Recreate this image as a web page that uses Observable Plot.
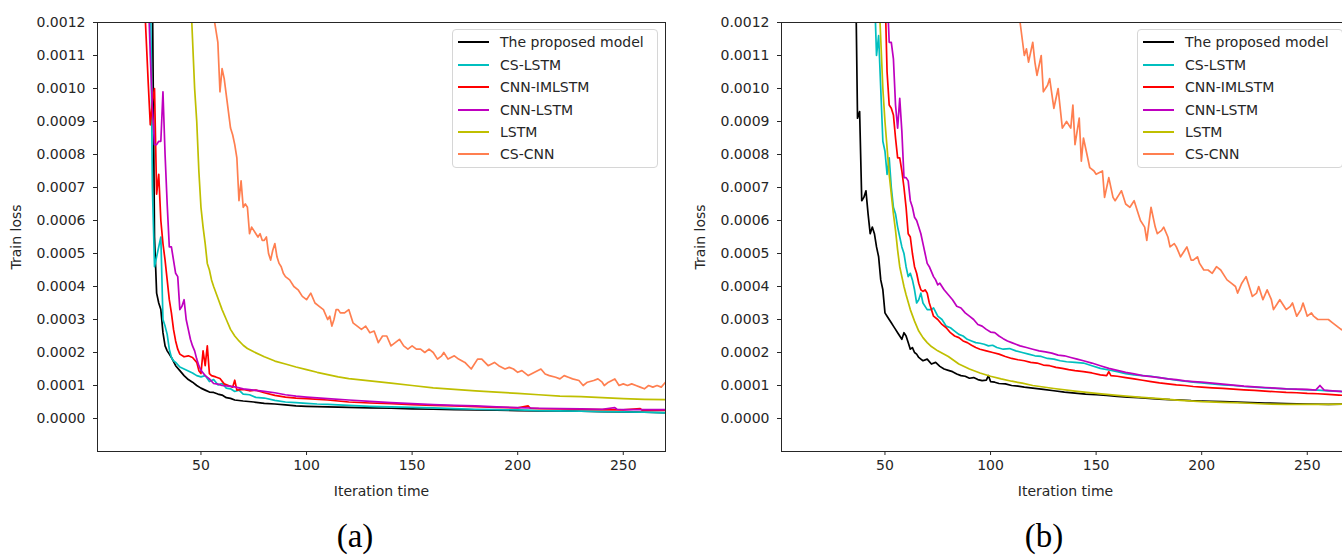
<!DOCTYPE html>
<html>
<head>
<meta charset="utf-8">
<script src="https://cdn.jsdelivr.net/npm/d3@7"></script>
<script src="https://cdn.jsdelivr.net/npm/@observablehq/plot@0.6"></script>
<style>
  html, body { margin: 0; padding: 0; background: #fff; width: 1342px; height: 558px; overflow: hidden; }
  #root { position: relative; width: 1342px; height: 558px; overflow: hidden; }
  .panel { position: absolute; top: 0; }
  .legend { position: absolute; box-sizing: border-box; border: 1px solid #d6d6d6; border-radius: 4px;
            background: rgba(255,255,255,0.85); font-family: "DejaVu Sans", sans-serif; font-size: 14px; color: #262626; }
  .legend .sw { position: absolute; height: 2px; }
  .legend .tx { position: absolute; white-space: nowrap; line-height: 20px; }
  .sub { position: absolute; width: 100px; text-align: center; font-family: "Liberation Serif", "Times New Roman", serif;
         font-size: 33px; line-height: 33px; color: #000; }
</style>
</head>
<body>
<div id="root"></div>
<script>
// ---------- data (loss values in units of 1e-4) ----------
const UNIT = 1e-4;
const seriesNames = ["The proposed model", "CS-LSTM", "CNN-IMLSTM", "CNN-LSTM", "LSTM", "CS-CNN"];
const seriesColors = ["#000000", "#00bfbf", "#ff0000", "#bf00bf", "#bfbf00", "#ff7f50"];
const xTicks = [50, 100, 150, 200, 250];
const yTicks = [0, 0.0001, 0.0002, 0.0003, 0.0004, 0.0005, 0.0006, 0.0007, 0.0008, 0.0009, 0.0010, 0.0011, 0.0012];
const panelLabels = ["(a)", "(b)"];

// Panel (a)
const a_proposed = [[27,13],[28,5.5],[29,3.8],[30,3.5],[31,3.3],[32,2.6],[33,2.2],[34,2.05],[35,1.95],[36,1.85],[38,1.6],[40,1.45],[42,1.3],[44,1.18],[46,1.1],[48,1.0],[50,0.92],[52,0.86],[54,0.8],[56,0.79],[58,0.74],[60,0.71],[62,0.63],[64,0.61],[66,0.56],[70,0.53],[75,0.5],[80,0.46],[85,0.44],[90,0.41],[95,0.38],[100,0.37],[110,0.35],[120,0.34],[130,0.32],[140,0.31],[150,0.29],[160,0.28],[170,0.27],[180,0.26],[190,0.25],[200,0.24],[210,0.23],[220,0.23],[230,0.22],[240,0.21],[250,0.2],[260,0.19],[270,0.18]];
const a_cslstm = [[26,14],[27,7.0],[28,4.6],[29,4.9],[30,5.2],[31,5.5],[32,3.0],[33,2.8],[34,2.55],[35,2.1],[36,1.85],[37,1.75],[38,1.7],[40,1.56],[42,1.5],[44,1.44],[46,1.38],[48,1.3],[50,1.26],[52,1.3],[54,1.12],[56,1.18],[58,1.02],[60,1.06],[62,0.92],[64,0.9],[66,0.82],[68,0.86],[70,0.74],[73,0.72],[76,0.64],[80,0.62],[85,0.55],[90,0.5],[95,0.48],[100,0.46],[105,0.44],[110,0.43],[120,0.4],[130,0.37],[140,0.35],[150,0.34],[160,0.32],[170,0.3],[180,0.28],[190,0.27],[200,0.26],[210,0.24],[220,0.23],[230,0.22],[240,0.21],[250,0.2],[260,0.19],[270,0.17]];
const a_cnnimlstm = [[23,13],[24,11.6],[25,10.2],[26,8.9],[27,9.6],[28,10.0],[29,6.8],[30,7.4],[31,6.0],[32,5.3],[33,4.8],[34,4.2],[35,3.6],[36,3.2],[37,2.7],[38,2.35],[39,2.1],[40,1.95],[42,1.87],[44,1.9],[46,1.85],[48,1.7],[49,1.45],[50,1.36],[51,2.05],[52,1.6],[53,2.2],[54,1.36],[55,1.3],[57,1.26],[59,1.21],[61,1.05],[63,1.0],[65,0.95],[66,1.16],[67,0.86],[70,0.88],[73,0.84],[76,0.86],[80,0.78],[85,0.7],[90,0.65],[95,0.62],[100,0.6],[110,0.56],[120,0.5],[130,0.47],[140,0.45],[150,0.42],[160,0.4],[170,0.38],[180,0.36],[190,0.34],[200,0.32],[205,0.38],[206,0.31],[210,0.3],[220,0.29],[230,0.28],[240,0.27],[250,0.26],[258,0.3],[259,0.25],[270,0.25]];
const a_cnnlstm = [[25,13],[26,11],[27,9.4],[28,8.3],[29,8.3],[30,8.4],[31,8.4],[32,9.9],[33,8.0],[34,6.5],[35,5.2],[36,5.2],[37,4.8],[38,4.4],[39,4.3],[40,3.3],[41,3.4],[42,3.6],[43,3.0],[44,2.7],[45,2.4],[46,2.2],[47,2.05],[48,1.8],[49,1.6],[50,1.46],[52,1.3],[54,1.2],[56,1.06],[58,1.04],[60,1.0],[63,0.98],[66,0.96],[70,0.9],[75,0.86],[80,0.82],[85,0.78],[90,0.72],[95,0.68],[100,0.65],[110,0.6],[120,0.56],[130,0.52],[140,0.48],[150,0.45],[160,0.42],[170,0.4],[180,0.38],[190,0.35],[200,0.33],[210,0.31],[220,0.3],[230,0.29],[240,0.28],[246,0.33],[247,0.28],[250,0.27],[260,0.27],[270,0.27]];
const a_lstm = [[45,13],[46,11.5],[47,10],[48,9.0],[49,7.5],[50,6.4],[51,5.8],[52,5.3],[53,4.7],[54,4.5],[55,4.2],[56,4.0],[58,3.65],[60,3.3],[62,3.0],[64,2.7],[66,2.5],[68,2.35],[70,2.22],[72,2.12],[75,2.02],[80,1.87],[85,1.74],[90,1.65],[95,1.56],[100,1.48],[105,1.4],[110,1.33],[115,1.26],[120,1.21],[130,1.14],[140,1.07],[150,1.0],[160,0.93],[170,0.88],[180,0.84],[190,0.8],[200,0.76],[210,0.72],[220,0.68],[230,0.66],[240,0.63],[250,0.6],[260,0.58],[270,0.57]];
const a_cscnn = [[55,13.5],[56,12.2],[57,11.8],[58,11.4],[59,9.9],[60,10.6],[61,10.3],[62,9.8],[63,9.3],[64,8.8],[65,8.6],[66,8.3],[67,7.9],[68,6.6],[69,7.2],[70,6.4],[71,6.5],[72,6.4],[73,5.6],[74,5.8],[75,5.7],[76,5.6],[77,5.5],[78,5.6],[79,5.4],[80,5.4],[81,5.5],[82,5.0],[83,4.8],[84,5.1],[85,5.3],[86,4.9],[87,4.7],[88,4.6],[89,4.4],[90,4.3],[92,4.2],[94,4.0],[96,3.9],[98,3.7],[100,3.6],[102,3.8],[104,3.5],[106,3.4],[108,3.3],[110,3.0],[111,3.1],[112,2.8],[113,3.0],[114,3.3],[115,3.3],[116,3.2],[118,3.2],[120,3.3],[122,2.9],[124,2.8],[126,2.7],[128,2.8],[130,2.6],[132,2.65],[134,2.3],[136,2.5],[138,2.5],[140,2.2],[142,2.3],[144,2.4],[146,2.2],[148,2.1],[150,2.2],[152,2.1],[154,2.1],[156,2.0],[158,2.1],[160,2.0],[162,1.8],[164,1.9],[165,2.0],[167,1.8],[170,1.9],[172,1.8],[175,1.7],[178,1.5],[181,1.8],[183,1.8],[186,1.6],[189,1.7],[191,1.6],[194,1.5],[196,1.55],[198,1.5],[200,1.4],[202,1.45],[205,1.3],[208,1.4],[211,1.5],[213,1.35],[215,1.3],[218,1.25],[220,1.2],[222,1.3],[224,1.25],[226,1.2],[229,1.15],[231,1.0],[233,1.1],[236,1.15],[238,1.2],[240,1.1],[241,1.0],[243,1.1],[246,1.2],[248,1.0],[250,1.05],[252,1.0],[254,1.05],[256,1.0],[258,0.95],[260,0.9],[262,1.0],[264,0.95],[266,1.0],[268,0.95],[270,1.1]];

// Panel (b)
const b_proposed = [[36,14],[37,9.1],[38,9.3],[39,6.6],[40,6.7],[41,6.9],[42,6.2],[43,5.6],[44,5.8],[45,5.6],[46,5.2],[47,4.9],[48,4.2],[49,3.9],[50,3.2],[51,3.1],[52,3.0],[53,2.9],[54,2.8],[55,2.7],[56,2.6],[57,2.5],[58,2.4],[59,2.6],[60,2.5],[61,2.3],[62,2.1],[63,2.15],[64,2.0],[65,1.95],[66,1.85],[67,1.8],[68,1.75],[70,1.8],[72,1.65],[74,1.7],[76,1.58],[78,1.5],[80,1.46],[82,1.42],[84,1.35],[86,1.3],[88,1.28],[90,1.22],[92,1.24],[94,1.18],[96,1.15],[98,1.16],[99,1.3],[100,1.12],[102,1.1],[104,1.06],[107,1.05],[110,1.0],[113,0.98],[116,0.95],[120,0.92],[125,0.88],[130,0.84],[135,0.8],[140,0.77],[145,0.74],[150,0.72],[155,0.7],[160,0.67],[165,0.65],[170,0.63],[175,0.61],[180,0.59],[185,0.57],[190,0.56],[195,0.54],[200,0.53],[210,0.51],[220,0.49],[230,0.47],[240,0.45],[250,0.44],[260,0.43],[270,0.44]];
const b_cslstm = [[45,13],[46,11.0],[47,11.6],[48,10.0],[49,8.4],[50,8.1],[51,7.4],[52,7.9],[53,7.0],[54,6.4],[55,6.2],[56,5.8],[57,5.5],[58,5.2],[59,5.0],[60,4.6],[61,4.3],[62,4.4],[63,4.2],[64,3.9],[65,3.5],[66,3.6],[67,3.8],[68,3.5],[70,3.3],[72,3.3],[73,3.35],[75,3.1],[77,3.0],[79,2.8],[81,2.75],[83,2.65],[85,2.55],[87,2.5],[89,2.4],[91,2.35],[93,2.3],[95,2.28],[97,2.25],[99,2.2],[101,2.22],[103,2.15],[106,2.1],[109,2.12],[112,2.05],[115,2.0],[118,1.95],[121,1.9],[124,1.88],[127,1.82],[130,1.8],[133,1.75],[136,1.72],[140,1.7],[144,1.68],[148,1.6],[152,1.52],[156,1.47],[160,1.42],[164,1.36],[168,1.32],[172,1.3],[176,1.28],[180,1.24],[184,1.2],[188,1.16],[192,1.13],[196,1.1],[200,1.08],[205,1.05],[210,1.02],[215,1.0],[220,0.97],[225,0.95],[230,0.93],[235,0.91],[240,0.9],[245,0.88],[250,0.87],[255,0.86],[260,0.84],[265,0.82],[270,0.8]];
const b_cnnimlstm = [[50,13],[51,10.5],[52,9.5],[53,9.4],[54,9.2],[55,8.5],[56,7.9],[57,7.9],[58,7.5],[59,7.0],[60,6.4],[61,5.6],[62,5.5],[63,5.0],[64,4.6],[65,4.4],[66,4.1],[67,3.9],[68,3.85],[69,3.9],[70,3.8],[71,3.5],[72,3.3],[73,3.1],[75,3.0],[77,2.85],[79,2.75],[81,2.6],[83,2.5],[85,2.45],[87,2.35],[89,2.3],[91,2.22],[93,2.15],[95,2.1],[98,2.05],[101,2.0],[104,1.95],[107,1.88],[110,1.82],[113,1.78],[116,1.75],[119,1.7],[122,1.68],[125,1.62],[128,1.6],[131,1.55],[134,1.52],[137,1.48],[140,1.45],[144,1.42],[148,1.38],[152,1.32],[155,1.3],[156,1.42],[157,1.3],[160,1.28],[164,1.24],[168,1.2],[172,1.16],[176,1.12],[180,1.08],[184,1.05],[188,1.02],[192,1.0],[196,0.97],[200,0.95],[205,0.93],[210,0.91],[215,0.89],[220,0.87],[225,0.85],[230,0.83],[235,0.81],[240,0.79],[245,0.78],[250,0.76],[255,0.75],[260,0.73],[265,0.71],[270,0.69]];
const b_cnnlstm = [[51,13],[52,11.4],[53,11.4],[54,10.9],[55,9.5],[56,8.8],[57,9.7],[58,8.7],[59,7.3],[60,7.3],[61,7.2],[62,6.6],[63,6.4],[64,6.1],[65,6.0],[66,5.8],[67,5.6],[68,5.3],[69,5.0],[70,4.7],[71,4.6],[72,4.45],[73,4.3],[74,4.2],[75,4.05],[76,4.1],[78,3.9],[80,3.75],[82,3.6],[84,3.4],[86,3.35],[88,3.2],[90,3.1],[92,3.0],[94,2.85],[96,2.8],[98,2.7],[100,2.62],[102,2.6],[104,2.5],[106,2.42],[108,2.35],[110,2.3],[112,2.25],[114,2.2],[117,2.15],[120,2.1],[123,2.05],[126,2.02],[129,1.98],[132,1.92],[135,1.9],[138,1.85],[141,1.8],[144,1.75],[148,1.68],[152,1.6],[156,1.52],[160,1.46],[164,1.4],[168,1.35],[172,1.3],[176,1.27],[180,1.24],[184,1.2],[188,1.18],[192,1.14],[196,1.12],[200,1.1],[205,1.07],[210,1.04],[215,1.01],[220,0.98],[225,0.96],[230,0.94],[235,0.92],[240,0.9],[245,0.89],[250,0.88],[254,0.86],[256,1.0],[258,0.86],[262,0.84],[266,0.82],[270,0.8]];
const b_lstm = [[47,13],[48,11.5],[49,10.0],[50,9.0],[51,8.2],[52,7.4],[53,6.8],[54,6.2],[55,5.7],[56,5.1],[57,4.6],[58,4.3],[59,4.0],[60,3.75],[62,3.3],[64,2.95],[66,2.65],[68,2.45],[70,2.3],[72,2.18],[75,2.05],[80,1.88],[85,1.65],[90,1.5],[95,1.38],[100,1.28],[105,1.2],[110,1.13],[115,1.07],[120,1.0],[130,0.91],[140,0.83],[150,0.76],[160,0.7],[170,0.65],[180,0.6],[190,0.55],[200,0.51],[210,0.49],[220,0.47],[230,0.44],[240,0.43],[250,0.43],[260,0.43],[270,0.44]];
const b_cscnn = [[113,12.5],[114,12.0],[116,11.0],[117,11.2],[118,10.8],[120,11.4],[121,10.8],[122,10.4],[124,11.0],[125,9.9],[127,10.1],[128,10.3],[130,9.4],[132,10.0],[134,8.8],[136,9.0],[138,8.8],[139,9.5],[140,8.3],[142,9.1],[143,7.8],[144,8.5],[146,7.9],[147,7.6],[149,7.5],[150,7.4],[153,7.5],[154,6.7],[156,7.3],[158,6.7],[159,6.6],[161,6.8],[162,6.9],[164,6.5],[166,6.4],[168,6.6],[170,6.2],[171,6.0],[173,5.8],[174,5.4],[176,6.4],[178,5.8],[179,5.6],[181,5.7],[182,5.8],[184,5.5],[185,5.2],[187,5.3],[188,5.2],[190,4.9],[192,5.1],[193,5.2],[195,4.8],[196,4.8],[198,4.9],[199,4.7],[201,4.5],[203,4.5],[205,4.4],[207,4.6],[209,4.5],[211,4.3],[212,4.2],[214,4.1],[216,4.0],[217,3.8],[219,4.1],[221,4.3],[223,3.9],[224,3.7],[226,3.8],[227,4.0],[229,3.6],[231,3.9],[233,3.6],[234,3.3],[236,3.5],[237,3.6],[239,3.4],[240,3.3],[242,3.4],[243,3.5],[245,3.1],[247,3.3],[248,3.5],[250,3.1],[252,3.2],[253,3.1],[255,3.0],[257,3.0],[258,3.0],[260,3.0],[262,2.9],[264,2.8],[266,2.7],[268,2.65],[270,2.6]];

const panelA = [a_proposed, a_cslstm, a_cnnimlstm, a_cnnlstm, a_lstm, a_cscnn];
const panelB = [b_proposed, b_cslstm, b_cnnimlstm, b_cnnlstm, b_lstm, b_cscnn];

// ---------- drawing ----------
const root = document.getElementById("root");

function toRows(series) {
  return series.flatMap((pts, i) => pts.map(([x, v]) => ({x, y: v * UNIT, s: seriesNames[i]})));
}

function makePanel(series) {
  const rows = toRows(series);
  return Plot.plot({
    width: 680, height: 500,
    marginLeft: 97, marginTop: 22, marginRight: 15, marginBottom: 49,
    style: {fontFamily: "DejaVu Sans, sans-serif", fontSize: "14px", color: "#262626", background: "transparent", overflow: "visible"},
    x: {domain: [1, 270], ticks: xTicks, tickSize: 4, tickPadding: 5, label: "Iteration time",
        labelAnchor: "center", labelArrow: "none", labelOffset: 44},
    y: {domain: [-0.0001, 0.0012], ticks: yTicks, tickFormat: d3.format(".4f"), tickSize: 4, tickPadding: 8,
        label: "Train loss", labelAnchor: "center", labelArrow: "none", labelOffset: 86},
    color: {domain: seriesNames, range: seriesColors},
    marks: [
      Plot.line(rows, {x: "x", y: "y", z: "s", stroke: "s", strokeWidth: 1.7, clip: true, strokeLinejoin: "round"}),
      Plot.frame({stroke: "#262626", strokeWidth: 1})
    ]
  });
}

function addPanel(series, left) {
  const svg = makePanel(series);
  svg.classList.add("panel");
  svg.style.left = left + "px";
  root.appendChild(svg);
}

function addLegend(left) {
  const box = document.createElement("div");
  box.className = "legend";
  Object.assign(box.style, {left: left + "px", top: "29px", width: "206px", height: "139px"});
  seriesNames.forEach((name, i) => {
    const c = 12.3 + 22.4 * i;
    const sw = document.createElement("div");
    sw.className = "sw";
    Object.assign(sw.style, {left: "5px", width: "31px", top: (c - 1) + "px", background: seriesColors[i]});
    const tx = document.createElement("div");
    tx.className = "tx";
    Object.assign(tx.style, {left: "47px", top: (c - 10) + "px"});
    tx.textContent = name;
    box.appendChild(sw);
    box.appendChild(tx);
  });
  root.appendChild(box);
}

function addSub(text, cx) {
  const d = document.createElement("div");
  d.className = "sub";
  d.style.left = (cx - 50) + "px";
  d.style.top = "520px";
  d.textContent = text;
  root.appendChild(d);
}

addPanel(panelA, 0);
addPanel(panelB, 684);
addLegend(452);
addLegend(1137);
addSub(panelLabels[0], 355);
addSub(panelLabels[1], 1044);
</script>
</body>
</html>
